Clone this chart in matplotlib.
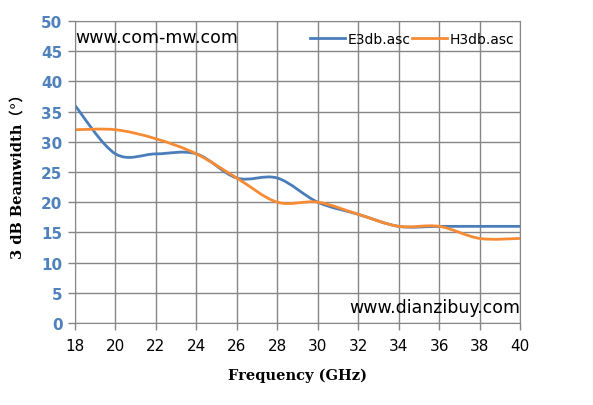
import numpy as np
import matplotlib
matplotlib.use("Agg")
import matplotlib.pyplot as plt
from matplotlib.path import Path
from matplotlib.patches import PathPatch
from matplotlib.lines import Line2D

freq = [18, 20, 22, 24, 26, 28, 30, 32, 34, 36, 38, 40]
e3db = [36, 28, 28, 28, 24, 24, 20, 18, 16, 16, 16, 16]
h3db = [32, 32, 30.5, 28, 24, 20, 20, 18, 16, 16, 14, 14]

blue = '#4A7EBB'
orange = '#F68B33'


def smooth_path(xs, ys):
    # Excel-style smoothed line: cubic bezier, control points from neighbours / 6
    pts = np.column_stack([xs, ys]).astype(float)
    n = len(pts)
    verts = [pts[0]]
    codes = [Path.MOVETO]
    for i in range(n - 1):
        p0 = pts[max(i - 1, 0)]
        p1 = pts[i]
        p2 = pts[i + 1]
        p3 = pts[min(i + 2, n - 1)]
        c1 = p1 + (p2 - p0) / 6
        c2 = p2 - (p3 - p1) / 6
        verts += [c1, c2, p2]
        codes += [Path.CURVE4] * 3
    return Path(verts, codes)


fig = plt.figure(figsize=(5.93, 4.06), dpi=100)
ax = fig.add_axes([0.1265, 0.202, 0.7505, 0.7438])

for ys, col in [(e3db, blue), (h3db, orange)]:
    ax.add_patch(PathPatch(smooth_path(freq, ys), facecolor='none',
                           edgecolor=col, lw=2.0, capstyle='round'))

ax.set_xlim(18, 40)
ax.set_ylim(0, 50)
ax.set_xticks(range(18, 41, 2))
ax.set_yticks(range(0, 51, 5))
ax.grid(True, color='#868686', lw=1.0)
ax.set_axisbelow(True)
for s in ax.spines.values():
    s.set_color('#868686')
ax.tick_params(axis='both', color='#868686', length=5, width=1)
ax.tick_params(axis='x', labelsize=11, labelcolor='black', pad=6)
ax.tick_params(axis='y', labelsize=11, labelcolor='#4F81BD', pad=4)
for lab in ax.get_yticklabels():
    lab.set_fontweight('bold')

ax.set_xlabel('Frequency (GHz)', family='DejaVu Serif', fontweight='bold',
              fontsize=10.5, labelpad=10)
ax.set_ylabel('3 dB Beamwidth（°）', family=['DejaVu Serif', 'Noto Sans CJK SC'],
              fontweight='bold', fontsize=10.5, labelpad=12)

handles = [Line2D([], [], color=blue, lw=2.0), Line2D([], [], color=orange, lw=2.0)]
ax.legend(handles, ['E3db.asc', 'H3db.asc'], loc='upper right', frameon=False,
          ncol=2, fontsize=10, handlelength=2.5, columnspacing=0.1,
          handletextpad=0.2, bbox_to_anchor=(1.015, 1.005))

ax.text(0.0, 0.946, 'www.com-mw.com', transform=ax.transAxes, fontsize=12.5,
        ha='left', va='center')
ax.text(1.0, 0.053, 'www.dianzibuy.com', transform=ax.transAxes, fontsize=12.5,
        ha='right', va='center')

fig.savefig('out.png', dpi=100)
